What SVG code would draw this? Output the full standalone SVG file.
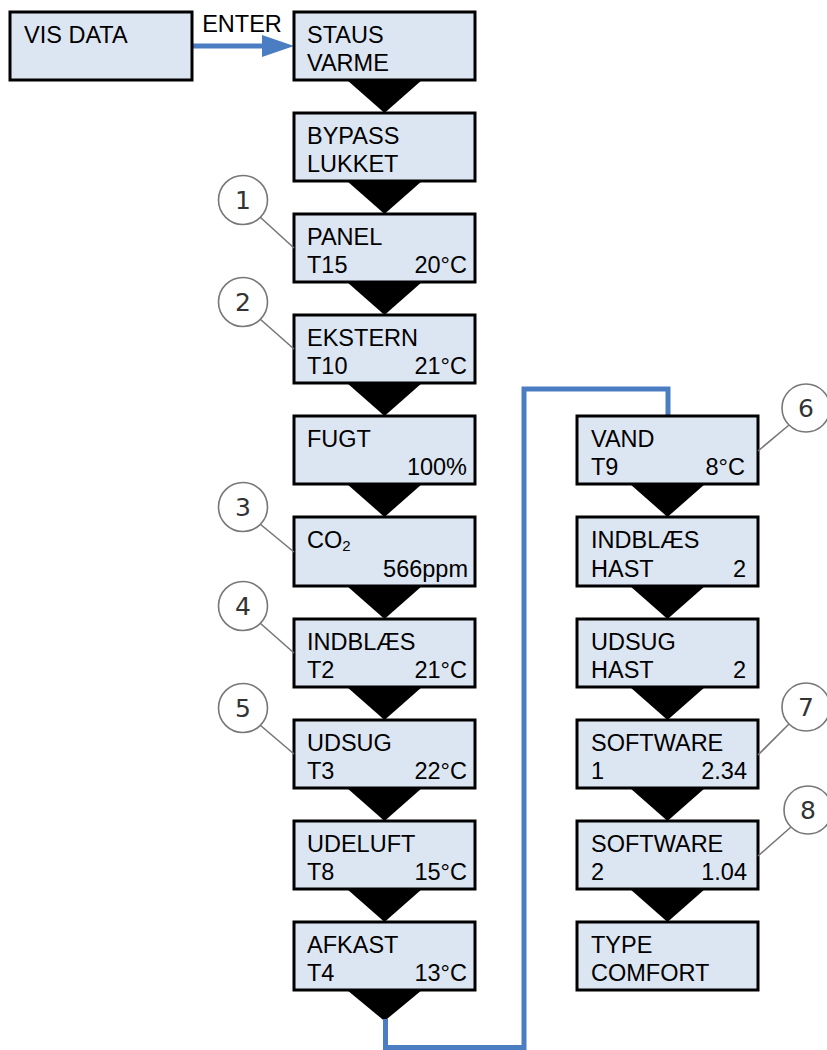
<svg xmlns="http://www.w3.org/2000/svg" width="827" height="1050" viewBox="0 0 827 1050">
<style>
.box{fill:#dce6f2;stroke:#000;stroke-width:3}
.t{font-family:"Liberation Sans",Arial,sans-serif;font-size:23.5px;fill:#000}
.r{text-anchor:end}
.tri{fill:#000}
.circ{fill:#fff;stroke:#777;stroke-width:1.6}
.num{font-family:"DejaVu Sans","Liberation Sans",sans-serif;font-size:25px;fill:#333;text-anchor:middle}
.lead{stroke:#777;stroke-width:1.6;fill:none}
.blue{stroke:#4a7dc1;stroke-width:5;fill:none}
</style>
<rect width="827" height="1050" fill="#fff"/>
<g id="connectors">
<line class="blue" x1="192" y1="46" x2="265" y2="46"/>
<polygon points="262,35 294,46 262,57" fill="#4a7dc1"/>
<text class="t" x="242" y="32" text-anchor="middle">ENTER</text>
<polygon class="tri" points="347,80 422,80 384.5,113"/>
<polygon class="tri" points="347,181 422,181 384.5,214"/>
<polygon class="tri" points="347,282 422,282 384.5,315"/>
<polygon class="tri" points="347,383 422,383 384.5,416"/>
<polygon class="tri" points="347,484 422,484 384.5,517"/>
<polygon class="tri" points="347,586 422,586 384.5,619"/>
<polygon class="tri" points="347,687 422,687 384.5,720"/>
<polygon class="tri" points="347,788 422,788 384.5,821"/>
<polygon class="tri" points="347,889 422,889 384.5,922"/>
<polygon class="tri" points="347,990 422,990 384.5,1021"/>
<polygon class="tri" points="630,484 705,484 667.5,517"/>
<polygon class="tri" points="630,586 705,586 667.5,619"/>
<polygon class="tri" points="630,687 705,687 667.5,720"/>
<polygon class="tri" points="630,788 705,788 667.5,821"/>
<polygon class="tri" points="630,889 705,889 667.5,922"/>
<path class="blue" d="M385.5 1019 V1047.5 H524 V389 H668 V416"/>
</g>
<g id="vis-data"><rect class="box" x="10" y="12" width="182" height="68"/><text class="t" x="24" y="43">VIS DATA</text></g>
<g id="staus"><rect class="box" x="294" y="12" width="181" height="68"/><text class="t" x="307" y="43">STAUS</text><text class="t" x="307" y="71">VARME</text></g>
<g id="bypass"><rect class="box" x="294" y="113" width="181" height="68"/><text class="t" x="307" y="144">BYPASS</text><text class="t" x="307" y="172">LUKKET</text></g>
<g id="panel"><rect class="box" x="294" y="214" width="181" height="68"/><text class="t" x="307" y="245">PANEL</text><text class="t" x="307" y="273">T15</text><text class="t r" x="467" y="273">20°C</text></g>
<g id="ekstern"><rect class="box" x="294" y="315" width="181" height="68"/><text class="t" x="307" y="346">EKSTERN</text><text class="t" x="307" y="374">T10</text><text class="t r" x="467" y="374">21°C</text></g>
<g id="fugt"><rect class="box" x="294" y="416" width="181" height="68"/><text class="t" x="307" y="447">FUGT</text><text class="t r" x="467" y="475">100%</text></g>
<g id="co2"><rect class="box" x="294" y="517" width="181" height="69"/><text class="t" x="307" y="548">CO<tspan font-size="15" dy="3">2</tspan></text><text class="t r" x="468" y="577">566ppm</text></g>
<g id="indblaes"><rect class="box" x="294" y="619" width="181" height="68"/><text class="t" x="307" y="650">INDBLÆS</text><text class="t" x="307" y="678">T2</text><text class="t r" x="467" y="678">21°C</text></g>
<g id="udsug"><rect class="box" x="294" y="720" width="181" height="68"/><text class="t" x="307" y="751">UDSUG</text><text class="t" x="307" y="779">T3</text><text class="t r" x="467" y="779">22°C</text></g>
<g id="udeluft"><rect class="box" x="294" y="821" width="181" height="68"/><text class="t" x="307" y="852">UDELUFT</text><text class="t" x="307" y="880">T8</text><text class="t r" x="467" y="880">15°C</text></g>
<g id="afkast"><rect class="box" x="294" y="922" width="181" height="68"/><text class="t" x="307" y="953">AFKAST</text><text class="t" x="307" y="981">T4</text><text class="t r" x="467" y="981">13°C</text></g>
<g id="vand"><rect class="box" x="577" y="416" width="181" height="68"/><text class="t" x="591" y="447">VAND</text><text class="t" x="591" y="475">T9</text><text class="t r" x="745" y="475">8°C</text></g>
<g id="indblaes-hast"><rect class="box" x="577" y="517" width="181" height="69"/><text class="t" x="591" y="548">INDBLÆS</text><text class="t" x="591" y="577">HAST</text><text class="t r" x="746" y="577">2</text></g>
<g id="udsug-hast"><rect class="box" x="577" y="619" width="181" height="68"/><text class="t" x="591" y="650">UDSUG</text><text class="t" x="591" y="678">HAST</text><text class="t r" x="746" y="678">2</text></g>
<g id="software1"><rect class="box" x="577" y="720" width="181" height="68"/><text class="t" x="591" y="751">SOFTWARE</text><text class="t" x="591" y="779">1</text><text class="t r" x="747" y="779">2.34</text></g>
<g id="software2"><rect class="box" x="577" y="821" width="181" height="68"/><text class="t" x="591" y="852">SOFTWARE</text><text class="t" x="591" y="880">2</text><text class="t r" x="747" y="880">1.04</text></g>
<g id="type"><rect class="box" x="577" y="922" width="181" height="68"/><text class="t" x="591" y="953">TYPE</text><text class="t" x="591" y="981">COMFORT</text></g>
<g id="callout-1"><line class="lead" x1="260" y1="217" x2="294" y2="248"/><circle class="circ" cx="243" cy="200" r="24.5"/><text class="num" x="243" y="209">1</text></g>
<g id="callout-2"><line class="lead" x1="260" y1="319" x2="294" y2="349"/><circle class="circ" cx="243" cy="302" r="24.5"/><text class="num" x="243" y="311">2</text></g>
<g id="callout-3"><line class="lead" x1="260" y1="524" x2="294" y2="552"/><circle class="circ" cx="243" cy="507" r="24.5"/><text class="num" x="243" y="516">3</text></g>
<g id="callout-4"><line class="lead" x1="260" y1="623" x2="294" y2="653"/><circle class="circ" cx="243" cy="606" r="24.5"/><text class="num" x="243" y="615">4</text></g>
<g id="callout-5"><line class="lead" x1="260" y1="725" x2="294" y2="754"/><circle class="circ" cx="243" cy="708" r="24.5"/><text class="num" x="243" y="717">5</text></g>
<g id="callout-6"><line class="lead" x1="789" y1="425" x2="758" y2="451"/><circle class="circ" cx="806" cy="408" r="24"/><text class="num" x="806" y="417">6</text></g>
<g id="callout-7"><line class="lead" x1="789" y1="724" x2="758" y2="755"/><circle class="circ" cx="806" cy="707" r="24"/><text class="num" x="806" y="716">7</text></g>
<g id="callout-8"><line class="lead" x1="791" y1="827" x2="758" y2="856"/><circle class="circ" cx="808" cy="810" r="24"/><text class="num" x="808" y="819">8</text></g>
</svg>
